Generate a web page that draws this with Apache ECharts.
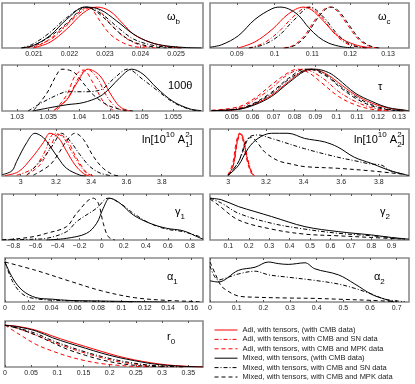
<!DOCTYPE html>
<html>
<head>
<meta charset="utf-8">
<script src="https://cdn.jsdelivr.net/npm/echarts@6/dist/echarts.min.js"></script>
<style>
html, body { margin: 0; padding: 0; background: #fff; }
#chart { width: 415px; height: 384px; }
</style>
</head>
<body>
<div id="chart"></div>
<script>
// series order in every panel: Adi CMB, Adi SN, Adi MPK, Mixed CMB, Mixed SN, Mixed MPK
var names = [
    'Adi, with tensors, (with CMB data)',
    'Adi, with tensors, with CMB and SN data',
    'Adi, with tensors, with CMB and MPK data',
    'Mixed, with tensors, (with CMB data)',
    'Mixed, with tensors, with CMB and SN data',
    'Mixed, with tensors, with CMB and MPK data'
];

// omega_b
var wbTicks = [0.021, 0.022, 0.023, 0.024, 0.025];
var wbAC = [[0.02098,0],[0.02145,0.14],[0.02192,0.46],[0.02239,0.86],[0.02277,1],[0.02314,0.9],[0.02352,0.58],[0.0238,0.34],[0.02427,0.14],[0.02474,0.04],[0.02516,0]];
var wbAS = [[0.0208,0],[0.02145,0.2],[0.02192,0.55],[0.02236,0.9],[0.02267,1],[0.02314,0.6],[0.02352,0.28],[0.02399,0.07],[0.02441,0]];
var wbAM = [[0.02098,0],[0.02145,0.22],[0.02192,0.58],[0.02227,0.88],[0.02253,1],[0.02286,0.66],[0.02314,0.34],[0.02352,0.12],[0.0238,0.04],[0.02413,0]];
var wbMC = [[0.02065,0],[0.02098,0.06],[0.02145,0.3],[0.02192,0.7],[0.02244,1],[0.02286,0.94],[0.02333,0.66],[0.0238,0.34],[0.02427,0.14],[0.02474,0.05],[0.0253,0.01],[0.02572,0]];
var wbMS = [[0.02065,0],[0.02098,0.1],[0.02145,0.38],[0.02192,0.74],[0.02244,1],[0.02286,0.86],[0.02342,0.46],[0.0238,0.22],[0.02427,0.08],[0.02474,0.02],[0.02516,0]];
var wbMM = [[0.02065,0],[0.02098,0.06],[0.02145,0.28],[0.02192,0.6],[0.02248,1],[0.02286,0.82],[0.02342,0.36],[0.0238,0.15],[0.02427,0.04],[0.02474,0]];

// omega_c
var wcTicks = [0.09, 0.1, 0.11, 0.12, 0.13];
var wcAC = [[0.0904,0],[0.0948,0.15],[0.0993,0.45],[0.1036,0.83],[0.1076,1],[0.1098,0.93],[0.1125,0.7],[0.1169,0.28],[0.1213,0.08],[0.1258,0]];
var wcAS = [[0.0932,0],[0.0971,0.12],[0.1011,0.4],[0.1051,0.78],[0.1087,1],[0.1122,0.78],[0.1154,0.4],[0.1186,0.13],[0.1217,0.03],[0.1249,0]];
var wcAM = [[0.1023,0],[0.1051,0.07],[0.1079,0.3],[0.1106,0.68],[0.113,0.94],[0.1147,1],[0.1166,0.9],[0.1194,0.55],[0.1221,0.22],[0.1249,0.05],[0.1273,0]];
var wcMC = [[0.0829,0.02],[0.086,0.08],[0.0904,0.3],[0.0948,0.7],[0.0993,0.96],[0.1014,1],[0.1036,0.96],[0.1063,0.8],[0.109,0.5],[0.1116,0.27],[0.1143,0.12],[0.1178,0.03],[0.121,0]];
var wcMS = [[0.0932,0],[0.0971,0.08],[0.1011,0.3],[0.1051,0.68],[0.1094,1],[0.113,0.75],[0.1162,0.38],[0.1194,0.12],[0.1225,0.02],[0.1249,0]];
var wcMM = [[0.1027,0],[0.1055,0.07],[0.1083,0.3],[0.111,0.68],[0.1134,0.94],[0.115,1],[0.117,0.9],[0.1198,0.55],[0.1225,0.22],[0.1253,0.05],[0.1277,0]];

// 100 theta
var thTicks = [1.03, 1.035, 1.04, 1.045, 1.05, 1.055];
var thAC = [[1.0359,0.02],[1.038,0.27],[1.0396,0.67],[1.0414,1],[1.0433,0.84],[1.0449,0.43],[1.0465,0.1],[1.0481,0]];
var thAS = [[1.0364,0.02],[1.0383,0.35],[1.0399,0.8],[1.0412,1],[1.0428,0.8],[1.0444,0.35],[1.046,0.07],[1.0475,0]];
var thAM = [[1.0361,0.02],[1.038,0.39],[1.0393,0.84],[1.0406,0.98],[1.0422,0.67],[1.0438,0.23],[1.0454,0.02]];
var thMC = [[1.0325,0],[1.0353,0.08],[1.038,0.15],[1.0406,0.2],[1.0433,0.35],[1.0449,0.55],[1.0465,0.8],[1.0484,1],[1.0502,0.88],[1.0524,0.55],[1.055,0.23],[1.0577,0.05],[1.0595,0.01]];
var thMS = [[1.0318,0],[1.034,0.2],[1.0367,0.4],[1.038,0.46],[1.0406,0.46],[1.0433,0.5],[1.0457,0.8],[1.0477,1],[1.0502,0.75],[1.0524,0.5],[1.0551,0.2],[1.0577,0.04],[1.0595,0]];
var thMM = [[1.0327,0.02],[1.0348,0.43],[1.0364,0.88],[1.0372,1],[1.0391,0.93],[1.0406,0.67],[1.0422,0.39],[1.0444,0.15],[1.0465,0.04],[1.0486,0]];

// tau
var tauTicks = [0.05, 0.06, 0.07, 0.08, 0.09, 0.1, 0.11, 0.12, 0.13];
var tauAC = [[0.0404,0.01],[0.0532,0.04],[0.0611,0.17],[0.0691,0.38],[0.0771,0.7],[0.0851,0.98],[0.0883,1],[0.0947,0.9],[0.101,0.68],[0.109,0.39],[0.117,0.19],[0.1249,0.07],[0.1329,0.01]];
var tauAS = [[0.0404,0.01],[0.0532,0.07],[0.0611,0.27],[0.0691,0.55],[0.0771,0.88],[0.0843,1],[0.0931,0.8],[0.101,0.47],[0.109,0.23],[0.117,0.08],[0.125,0.01]];
var tauAM = [[0.0404,0.02],[0.0532,0.1],[0.0611,0.31],[0.0691,0.63],[0.0771,0.92],[0.0815,1],[0.0867,0.92],[0.0931,0.67],[0.101,0.35],[0.109,0.15],[0.117,0.04],[0.125,0]];
var tauMC = [[0.0404,0.01],[0.0532,0.04],[0.0611,0.15],[0.0691,0.35],[0.0771,0.67],[0.0851,0.96],[0.0899,1],[0.0963,0.92],[0.101,0.76],[0.109,0.43],[0.117,0.23],[0.1249,0.08],[0.1329,0.02],[0.1348,0]];
var tauMS = [[0.0404,0.01],[0.0532,0.05],[0.0611,0.18],[0.0691,0.42],[0.0771,0.75],[0.0851,0.98],[0.0883,1],[0.0947,0.88],[0.101,0.63],[0.109,0.35],[0.117,0.15],[0.1249,0.04],[0.1329,0]];
var tauMM = [[0.0404,0.01],[0.0532,0.05],[0.0611,0.2],[0.0691,0.45],[0.0771,0.78],[0.0851,1],[0.0899,0.97],[0.0963,0.8],[0.101,0.6],[0.109,0.31],[0.117,0.12],[0.1249,0.03],[0.1329,0]];

// ln[10^10 A1^2]
var lnA1Ticks = [3, 3.2, 3.4, 3.6, 3.8];
var lnA1AC = [[2.91,0.01],[2.987,0.1],[3.062,0.42],[3.128,0.78],[3.166,1],[3.213,0.9],[3.26,0.58],[3.308,0.26],[3.355,0.06],[3.39,0]];
var lnA1AS = [[2.977,0.02],[3.072,0.18],[3.128,0.5],[3.194,1],[3.242,0.9],[3.298,0.5],[3.355,0.14],[3.393,0.02]];
var lnA1AM = [[3.034,0.02],[3.109,0.26],[3.166,0.66],[3.213,0.98],[3.26,0.86],[3.317,0.42],[3.374,0.08],[3.412,0]];
var lnA1MC = [[2.894,0.03],[2.95,0.12],[2.977,0.34],[3.034,0.78],[3.081,1],[3.128,0.9],[3.166,0.7],[3.213,0.42],[3.26,0.18],[3.336,0.02],[3.37,0]];
var lnA1MS = [[3.034,0.02],[3.128,0.42],[3.185,0.74],[3.232,1],[3.28,0.82],[3.336,0.5],[3.393,0.22],[3.45,0.07],[3.507,0.01]];
var lnA1MM = [[3.072,0.02],[3.166,0.26],[3.223,0.58],[3.26,0.82],[3.308,1],[3.355,0.86],[3.412,0.46],[3.468,0.18],[3.525,0.03],[3.563,0]];

// ln[10^10 A2^2]
var lnA2Ticks = [3, 3.2, 3.4, 3.6, 3.8];
var lnA2AC = [[3.0,0.02],[3.026,0.24],[3.044,0.72],[3.062,1],[3.079,0.88],[3.097,0.48],[3.123,0.08],[3.141,0]];
var lnA2AS = [[3.003,0.02],[3.03,0.3],[3.048,0.78],[3.066,1],[3.083,0.85],[3.101,0.44],[3.127,0.07],[3.145,0]];
var lnA2AM = [[2.997,0.02],[3.023,0.28],[3.041,0.76],[3.059,1],[3.076,0.86],[3.094,0.46],[3.12,0.08],[3.138,0]];
var lnA2MC = [[3.0,0.02],[3.053,0.24],[3.105,0.64],[3.158,0.88],[3.229,1],[3.317,1],[3.405,0.88],[3.458,0.84],[3.51,0.8],[3.581,0.68],[3.669,0.44],[3.757,0.3],[3.792,0.24],[3.863,0.12],[3.933,0.04],[3.96,0.01]];
var lnA2MS = [[3.0,0.02],[3.053,0.32],[3.097,0.8],[3.114,0.92],[3.158,0.96],[3.229,0.88],[3.405,0.64],[3.581,0.44],[3.669,0.36],[3.757,0.28],[3.81,0.26],[3.863,0.12],[3.933,0.04]];
var lnA2MM = [[3.0,0.02],[3.053,0.32],[3.097,0.84],[3.123,0.9],[3.158,0.76],[3.194,0.56],[3.264,0.36],[3.335,0.28],[3.405,0.22],[3.581,0.18],[3.757,0.12],[3.933,0.04]];

// gamma_1
var g1Ticks = [-0.8, -0.6, -0.4, -0.2, 0, 0.2, 0.4, 0.6, 0.8];
var g1MC = [[-0.5,0],[-0.317,0.04],[-0.136,0.16],[-0.045,0.4],[0.015,0.76],[0.075,1],[0.166,0.88],[0.286,0.6],[0.437,0.4],[0.588,0.28],[0.738,0.22],[0.89,0.05],[0.92,0.02]];
var g1MS = [[-0.9,0],[-0.6,0.02],[-0.498,0.04],[-0.317,0.2],[-0.226,0.44],[-0.045,0.76],[0.06,1],[0.166,0.88],[0.286,0.64],[0.437,0.4],[0.588,0.26],[0.738,0.2],[0.89,0.08]];
var g1MM = [[-0.9,0.01],[-0.8,0.02],[-0.619,0.08],[-0.498,0.16],[-0.317,0.32],[-0.226,0.64],[-0.075,1],[-0.03,0.88],[0.015,0.4],[0.06,0.08],[0.12,0]];

// gamma_2
var g2Ticks = [0.1, 0.2, 0.3, 0.4, 0.5, 0.6, 0.7, 0.8, 0.9];
var g2MC = [[0.01,1],[0.067,0.96],[0.149,0.8],[0.23,0.68],[0.312,0.56],[0.475,0.32],[0.639,0.2],[0.802,0.12],[0.9,0.06],[0.985,0.02]];
var g2MS = [[0.01,1],[0.067,0.88],[0.149,0.64],[0.312,0.4],[0.475,0.26],[0.639,0.16],[0.802,0.1],[0.965,0.02]];
var g2MM = [[0.01,0.98],[0.05,0.84],[0.149,0.48],[0.312,0.26],[0.475,0.14],[0.639,0.1],[0.802,0.06],[0.965,0.02]];

// alpha_1
var al1Ticks = [0, 0.02, 0.04, 0.06, 0.08, 0.1, 0.12, 0.14, 0.16];
var al1MC = [[0,1],[0.007,0.58],[0.0154,0.28],[0.0266,0.11],[0.0407,0.07],[0.0547,0.04],[0.0828,0.025],[0.111,0.01],[0.139,0]];
var al1MS = [[0,1],[0.007,0.49],[0.0154,0.19],[0.0266,0.08],[0.0547,0.03],[0.0828,0.015],[0.111,0]];
var al1MM = [[0,1],[0.0266,0.79],[0.0547,0.53],[0.0828,0.28],[0.111,0.11],[0.139,0.04],[0.167,0.01]];

// alpha_2
var al2Ticks = [0, 0.1, 0.2, 0.3, 0.4, 0.5, 0.6, 0.7];
var al2MC = [[0,0.53],[0.031,0.5],[0.106,0.79],[0.169,0.87],[0.219,1],[0.256,0.96],[0.293,0.94],[0.356,0.98],[0.393,0.83],[0.481,0.68],[0.543,0.45],[0.606,0.19],[0.656,0.07],[0.69,0]];
var al2MS = [[0,0.9],[0.031,0.55],[0.06,0.6],[0.106,0.7],[0.169,0.77],[0.219,0.68],[0.293,0.62],[0.393,0.54],[0.481,0.45],[0.543,0.34],[0.606,0.2],[0.656,0.07],[0.73,0.01]];
var al2MM = [[0,1],[0.02,0.7],[0.04,0.42],[0.056,0.32],[0.106,0.15],[0.169,0.12],[0.293,0.1],[0.393,0.09],[0.481,0.07],[0.606,0.04],[0.7,0.01]];

// r_0
var r0Ticks = [0, 0.05, 0.1, 0.15, 0.2, 0.25, 0.3, 0.35];
var r0AC = [[0,1],[0.025,0.97],[0.0595,0.88],[0.0908,0.74],[0.122,0.61],[0.1535,0.49],[0.185,0.37],[0.216,0.26],[0.2475,0.17],[0.279,0.1],[0.31,0.05],[0.342,0.02],[0.378,0]];
var r0AS = [[0,1],[0.025,0.92],[0.0595,0.76],[0.0908,0.6],[0.122,0.46],[0.1535,0.33],[0.185,0.22],[0.216,0.13],[0.2475,0.07],[0.279,0.03],[0.31,0.01],[0.34,0]];
var r0AM = [[0,1],[0.025,0.8],[0.0595,0.54],[0.0908,0.38],[0.122,0.25],[0.1535,0.15],[0.185,0.08],[0.216,0.04],[0.2475,0.015],[0.28,0]];
var r0MC = [[0,1],[0.025,0.96],[0.0595,0.86],[0.0908,0.7],[0.122,0.57],[0.1535,0.45],[0.185,0.33],[0.216,0.23],[0.2475,0.15],[0.279,0.08],[0.31,0.04],[0.342,0.015],[0.378,0]];
var r0MS = [[0,1],[0.025,0.93],[0.0595,0.8],[0.0908,0.63],[0.122,0.49],[0.1535,0.36],[0.185,0.25],[0.216,0.16],[0.2475,0.09],[0.279,0.04],[0.31,0.015],[0.342,0]];
var r0MM = [[0,1],[0.025,0.92],[0.0595,0.76],[0.0908,0.58],[0.122,0.41],[0.1535,0.28],[0.185,0.17],[0.216,0.09],[0.2475,0.04],[0.279,0.015],[0.31,0]];

(function() {
    var styles = [
        { color: '#ff0000', type: 'solid' },
        { color: '#ff0000', type: [4, 2, 1, 2] },
        { color: '#ff0000', type: [4, 3] },
        { color: '#000000', type: 'solid' },
        { color: '#000000', type: [4, 2, 1, 2] },
        { color: '#000000', type: [4, 3] }
    ];

    // box: left, top, width, height ; label: text, left, top
    var panels = [
        { box: [2, 3, 201, 45], range: [0.0201, 0.02576], ticks: wbTicks, curves: [wbAC, wbAS, wbAM, wbMC, wbMS, wbMM], label: ['{m|ω}{s|b}', 167, 8] },
        { box: [210, 3, 199, 45], range: [0.0829, 0.13556], ticks: wcTicks, curves: [wcAC, wcAS, wcAM, wcMC, wcMS, wcMM], label: ['{m|ω}{s|c}', 378, 8] },
        { box: [2, 65, 201, 46], range: [1.0276, 1.0598], ticks: thTicks, curves: [thAC, thAS, thAM, thMC, thMS, thMM], label: ['{m|100θ}', 168, 77] },
        { box: [210, 65, 199, 46], range: [0.0396, 0.1348], ticks: tauTicks, curves: [tauAC, tauAS, tauAM, tauMC, tauMS, tauMM], label: ['{m|τ}', 378, 78] },
        { box: [2, 129, 201, 47], range: [2.894, 4.034], ticks: lnA1Ticks, curves: [lnA1AC, lnA1AS, lnA1AM, lnA1MC, lnA1MS, lnA1MM], label: ['{m|ln[10}{p|10}{m| A}{q|2}{s|1}{m|]}', 142, 131] },
        { box: [210, 129, 199, 47], range: [2.903, 3.96], ticks: lnA2Ticks, curves: [lnA2AC, lnA2AS, lnA2AM, lnA2MC, lnA2MS, lnA2MM], label: ['{m|ln[10}{p|10}{m| A}{q|2}{s|2}{m|]}', 354, 131] },
        { box: [2, 194, 201, 46], range: [-0.902, 0.918], ticks: g1Ticks, curves: [null, null, null, g1MC, g1MS, g1MM], label: ['{m|γ}{s|1}', 175, 203] },
        { box: [210, 194, 199, 46], range: [0.01, 0.985], ticks: g2Ticks, curves: [null, null, null, g2MC, g2MS, g2MM], label: ['{m|γ}{s|2}', 380, 203] },
        { box: [2, 258, 201, 44], range: [0, 0.17], ticks: al1Ticks, curves: [null, null, null, al1MC, al1MS, al1MM], label: ['{m|α}{s|1}', 167, 268] },
        { box: [210, 258, 199, 44], range: [0, 0.746], ticks: al2Ticks, curves: [null, null, null, al2MC, al2MS, al2MM], label: ['{m|α}{s|2}', 374, 268] },
        { box: [2, 321, 201, 46], range: [0, 0.378], ticks: r0Ticks, curves: [r0AC, r0AS, r0AM, r0MC, r0MS, r0MM], label: ['{m|r}{s|0}', 167, 328] }
    ];

    var base = { color: '#000', fontFamily: 'Liberation Sans', fontWeight: 'normal' };
    var rich = {
        m: echarts.util.extend({ fontSize: 11, lineHeight: 18 }, base),
        s: echarts.util.extend({ fontSize: 8, verticalAlign: 'bottom' }, base),
        p: echarts.util.extend({ fontSize: 8, verticalAlign: 'top' }, base),
        q: echarts.util.extend({ fontSize: 8, verticalAlign: 'top', width: 0 }, base)
    };

    var fmt = function(v) { return String(v).replace('-', '\u2212'); };

    var grids = [], xAxes = [], yAxes = [], series = [], titles = [];
    panels.forEach(function(p, i) {
        grids.push({ left: p.box[0], top: p.box[1], width: p.box[2], height: p.box[3],
            show: true, borderColor: '#8a8a8a', borderWidth: 1.6 });
        [ 'bottom', 'top' ].forEach(function(pos) {
            xAxes.push({
                gridIndex: i, type: 'value', position: pos, min: p.range[0], max: p.range[1],
                splitLine: { show: false }, axisLine: { show: false },
                axisTick: { show: true, inside: true, length: 2, customValues: p.ticks, lineStyle: { color: '#555', width: 1 } },
                axisLabel: { show: pos === 'bottom', customValues: p.ticks, fontSize: 7, margin: 3,
                    color: '#222', fontFamily: 'Liberation Sans', formatter: fmt }
            });
        });
        yAxes.push({ gridIndex: i, type: 'value', min: 0, max: 1.1, show: false });
        p.curves.forEach(function(c, k) {
            if (!c) return;
            series.push({
                type: 'line', name: names[k], xAxisIndex: 2 * i, yAxisIndex: i,
                data: c, smooth: 0.35, symbol: 'none', silent: true,
                lineStyle: { color: styles[k].color, type: styles[k].type, width: 1 },
                itemStyle: { color: styles[k].color }
            });
        });
        titles.push({ text: p.label[0], left: p.label[1], top: p.label[2], padding: 0,
            textStyle: { fontWeight: 'normal', rich: rich } });
    });

    var myChart = echarts.init(document.getElementById('chart'));
    var option = {
        animation: false,
        title: titles,
        grid: grids,
        xAxis: xAxes,
        yAxis: yAxes,
        legend: {
            data: names, orient: 'vertical', left: 214, top: 326, height: 58, padding: 0,
            itemWidth: 23, itemHeight: 8, itemGap: 1.4,
            itemStyle: { opacity: 0 },
            lineStyle: { width: 1 },
            textStyle: { fontSize: 7.5, color: '#222', fontFamily: 'Liberation Sans' },
            selectedMode: false
        },
        series: series
    };
    myChart.setOption(option);
})();
</script>
</body>
</html>
